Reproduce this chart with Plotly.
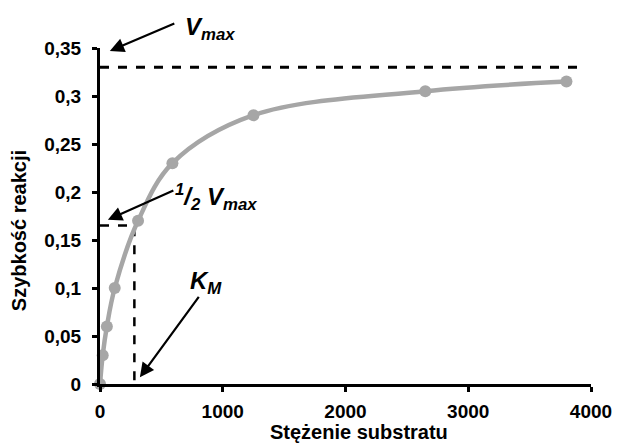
import plotly.graph_objects as go

substrate = [0, 22, 56, 120, 310, 590, 1250, 2650, 3800]
rate = [0, 0.03, 0.06, 0.1, 0.17, 0.23, 0.28, 0.305, 0.315]

vmax = 0.33
vmax_line_x = [0, 3900]
km = 280
half_vmax = 0.165

y_ticks = [0, 0.05, 0.1, 0.15, 0.2, 0.25, 0.3, 0.35]
y_tick_labels = ["0", "0,05", "0,1", "0,15", "0,2", "0,25", "0,3", "0,35"]
x_ticks = [0, 1000, 2000, 3000, 4000]
x_tick_labels = ["0", "1000", "2000", "3000", "4000"]

FONT = "Liberation Sans, Arial, sans-serif"

fig = go.Figure()

# Vmax dashed line
fig.add_trace(go.Scatter(x=vmax_line_x, y=[vmax, vmax], mode="lines",
                         line=dict(color="black", width=3, dash="dash"),
                         hoverinfo="skip", showlegend=False))
# 1/2 Vmax and KM dashed guides
fig.add_trace(go.Scatter(x=[0, km, km], y=[half_vmax, half_vmax, 0], mode="lines",
                         line=dict(color="black", width=2.5, dash="dash"),
                         hoverinfo="skip", showlegend=False))
# data curve
fig.add_trace(go.Scatter(x=substrate, y=rate, mode="lines+markers",
                         line=dict(color="#A6A6A6", width=4.5, shape="spline", smoothing=1),
                         marker=dict(color="#A6A6A6", size=12),
                         cliponaxis=False, showlegend=False))

arrow = dict(showarrow=True, arrowhead=2, arrowsize=1.3, arrowwidth=2.2,
             arrowcolor="black", text="", axref="pixel", ayref="pixel")


def px(xp):
    return (xp - 100) / 498


def py(yp):
    return (384 - yp) / 336


label_font = dict(size=24, family=FONT, color="black")

annotations = [
    dict(x=80, y=0.347, ax=66, ay=-28, **arrow),
    dict(x=64, y=0.171, ax=67, ay=-30, **arrow),
    dict(x=325, y=0.007, ax=60, ay=-82, **arrow),
    dict(xref="paper", yref="paper", x=px(212), y=py(29), text="<b><i>V<sub>max</sub></i></b>",
         showarrow=False, xanchor="center", yanchor="middle", font=label_font),
    dict(xref="paper", yref="paper", x=px(218), y=py(197),
         text="<b><i><sup>1</sup>/<sub>2</sub> V<sub>max</sub></i></b>",
         showarrow=False, xanchor="center", yanchor="middle", font=label_font),
    dict(xref="paper", yref="paper", x=px(208), y=py(282), text="<b><i>K<sub>M</sub></i></b>",
         showarrow=False, xanchor="center", yanchor="middle", font=label_font),
    dict(xref="paper", yref="paper", x=px(363), y=py(432),
         text="<b>Stężenie substratu</b>", showarrow=False, xanchor="center", yanchor="middle",
         font=dict(size=20, family=FONT, color="black")),
    dict(xref="paper", yref="paper", x=px(18), y=py(231),
         text="<b>Szybkość reakcji</b>", showarrow=False, textangle=-90,
         xanchor="center", yanchor="middle",
         font=dict(size=20, family=FONT, color="black")),
]

fig.update_layout(
    width=624, height=446,
    margin=dict(l=100, r=26, t=48, b=62),
    plot_bgcolor="white", paper_bgcolor="white",
    font=dict(family=FONT, color="black"),
    annotations=annotations,
    xaxis=dict(range=[0, 4000], tickvals=x_ticks, ticktext=x_tick_labels,
               showgrid=False, zeroline=False, showline=True, linecolor="black", linewidth=3,
               ticks="outside", ticklen=5, tickwidth=3, tickcolor="black", ticklabelstandoff=3,
               tickfont=dict(size=19, family=FONT, color="black", weight="bold")),
    yaxis=dict(range=[0, 0.35], tickvals=y_ticks, ticktext=y_tick_labels,
               showgrid=False, zeroline=False, showline=True, linecolor="black", linewidth=3,
               ticks="outside", ticklen=5, tickwidth=3, tickcolor="black", ticklabelstandoff=7,
               tickfont=dict(size=19, family=FONT, color="black", weight="bold")),
)

fig.write_html("out.html", config={"displayModeBar": False},
               post_script="document.body.style.margin='0';")
